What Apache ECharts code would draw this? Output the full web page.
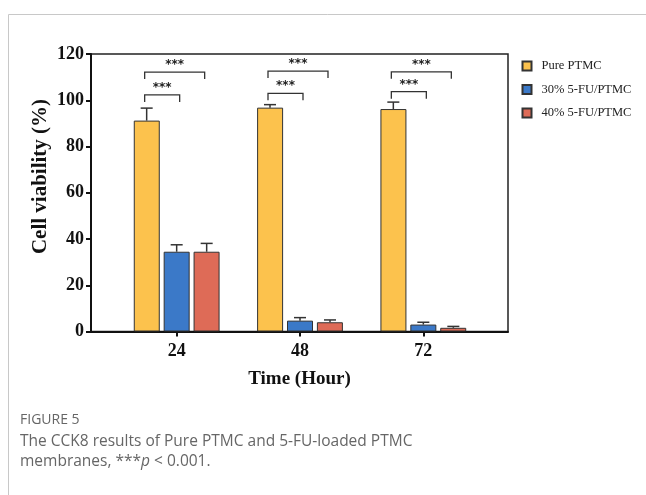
<!DOCTYPE html>
<html>
<head>
<meta charset="utf-8">
<script src="https://cdn.jsdelivr.net/npm/echarts@6/dist/echarts.min.js"></script>
<style>
  html, body { margin: 0; padding: 0; background: #fff; }
  #main { width: 646px; height: 495px; }
</style>
</head>
<body>
<div id="main"></div>
<script>
// data
var categories = ['24', '48', '72'];
var seriesNames = ['Pure PTMC', '30% 5-FU/PTMC', '40% 5-FU/PTMC'];
var purePTMC = [91.2, 96.8, 96.2];
var pureErr = [5.4, 1.3, 3.0];
var fu30 = [34.5, 4.7, 3.0];
var fu30Err = [3.0, 1.3, 1.0];
var fu40 = [34.5, 4.0, 1.6];
var fu40Err = [3.6, 1.0, 0.6];
var yTicks = [0, 20, 40, 60, 80, 100, 120];
// significance brackets: [category index, from series, to series, y value]
var brackets = [
  [0, 0, 2, 112.2], [0, 0, 1, 102.3],
  [1, 0, 2, 112.6], [1, 0, 1, 103.0],
  [2, 0, 2, 112.3], [2, 0, 1, 103.7]
];

var colors = ['#FCC24D', '#3B79C8', '#DE6B57'];
var barOffsets = [-30, 0, 30];
var serif = 'Liberation Serif';

var chartDom = document.getElementById('main');
var myChart = echarts.init(chartDom, null, { renderer: 'canvas' });

function errorSeries(idx, values, errs) {
  return {
    type: 'custom',
    xAxisIndex: 1,
    yAxisIndex: 1,
    z: 5,
    data: values.map(function (v, i) { return [i, v, errs[i]]; }),
    renderItem: function (params, api) {
      var base = api.coord([api.value(0), api.value(1)]);
      var top = api.coord([api.value(0), api.value(1) + api.value(2)]);
      var x = base[0] + barOffsets[idx];
      var style = { stroke: '#333', lineWidth: 1.5 };
      return {
        type: 'group',
        children: [
          { type: 'line', shape: { x1: x, y1: base[1], x2: x, y2: top[1] }, style: style },
          { type: 'line', shape: { x1: x - 6, y1: top[1], x2: x + 6, y2: top[1] }, style: style }
        ]
      };
    }
  };
}

function barSeries(idx, values) {
  return {
    name: seriesNames[idx],
    type: 'bar',
    xAxisIndex: 1,
    yAxisIndex: 1,
    barWidth: 26,
    barGap: '15%',
    data: values,
    itemStyle: { color: colors[idx], borderColor: '#333', borderWidth: 1 }
  };
}

var option = {
  backgroundColor: '#fff',
  animation: false,
  graphic: [
    { type: 'rect', shape: { x: 8.5, y: 14.5, width: 700, height: 600 },
      style: { fill: 'none', stroke: '#c8c8c8', lineWidth: 1 }, silent: true },
    { type: 'text', x: 41, y: 176.5, rotation: Math.PI / 2,
      style: { text: 'Cell viability (%)', font: 'bold 21px "Liberation Serif"', fill: '#111',
        align: 'center', verticalAlign: 'middle' } },
    { type: 'text', left: 20, top: 413,
      style: { text: 'FIGURE 5', font: '14px "Open Sans"', fill: '#666' } },
    { type: 'text', left: 20, top: 431,
      style: {
        text: 'The CCK8 results of Pure PTMC and 5-FU-loaded PTMC\nmembranes, ***{i|p} < 0.001.',
        font: '15.5px "Open Sans"', fill: '#666', lineHeight: 20.5,
        rich: { i: { fontStyle: 'italic', font: 'italic 15.5px "Open Sans"', fill: '#666' } }
      } }
  ],
  legend: {
    orient: 'vertical',
    left: 516.5,
    top: 54,
    icon: 'rect',
    itemWidth: 9,
    itemHeight: 9,
    itemGap: 9.5,
    data: seriesNames,
    textStyle: { fontFamily: serif, fontSize: 12.5, color: '#222', lineHeight: 14, padding: [0, 0, 0, 5] }
  },
  grid: [
    { left: 91, right: 138, top: 54, bottom: 163.5, show: true, borderColor: '#222', borderWidth: 1.5 },
    { left: 115, right: 161, top: 54, bottom: 163.5 }
  ],
  xAxis: [
    {
      type: 'value', gridIndex: 0, min: 0, max: 1,
      axisLine: { show: true, lineStyle: { color: '#111', width: 2 } },
      axisTick: { show: false }, axisLabel: { show: false }, splitLine: { show: false },
      name: 'Time (Hour)', nameLocation: 'middle', nameGap: 38,
      nameTextStyle: { fontFamily: serif, fontWeight: 'bold', fontSize: 19, color: '#111' }
    },
    {
      type: 'category', gridIndex: 1, data: categories,
      axisLine: { show: false },
      axisTick: { show: true, alignWithLabel: true, length: 5, lineStyle: { color: '#111', width: 2 } },
      axisLabel: { fontFamily: serif, fontWeight: 'bold', fontSize: 18, color: '#111', margin: 11 }
    }
  ],
  yAxis: [
    {
      type: 'value', gridIndex: 0, min: 0, max: 120, interval: 20,
      axisLine: { show: true, lineStyle: { color: '#111', width: 2 } },
      axisTick: { show: true, length: 5, lineStyle: { color: '#111', width: 2 } },
      axisLabel: { fontFamily: serif, fontWeight: 'bold', fontSize: 18, color: '#111', margin: 7 },
      splitLine: { show: false }
    },
    {
      type: 'value', gridIndex: 1, min: 0, max: 120, interval: 20, show: false
    }
  ],
  series: [
    barSeries(0, purePTMC),
    barSeries(1, fu30),
    barSeries(2, fu40),
    errorSeries(0, purePTMC, pureErr),
    errorSeries(1, fu30, fu30Err),
    errorSeries(2, fu40, fu40Err),
    {
      type: 'custom',
      xAxisIndex: 1,
      yAxisIndex: 1,
      z: 6,
      data: brackets,
      renderItem: function (params, api) {
        var p = api.coord([api.value(0), api.value(3)]);
        var x1 = p[0] + barOffsets[api.value(1)] - 2;
        var x2 = p[0] + barOffsets[api.value(2)] + (api.value(2) === 1 ? 3 : -2);
        var y = p[1];
        return {
          type: 'group',
          children: [
            { type: 'polyline',
              shape: { points: [[x1, y + 7], [x1, y], [x2, y], [x2, y + 7]] },
              style: { stroke: '#333', lineWidth: 1.3, fill: 'none' } },
            { type: 'text', x: (x1 + x2) / 2, y: y - 7,
              style: { text: '***', font: 'bold 12px "DejaVu Sans"', fill: '#222',
                align: 'center', verticalAlign: 'middle' } }
          ]
        };
      }
    }
  ]
};

option && myChart.setOption(option);
</script>
</body>
</html>
